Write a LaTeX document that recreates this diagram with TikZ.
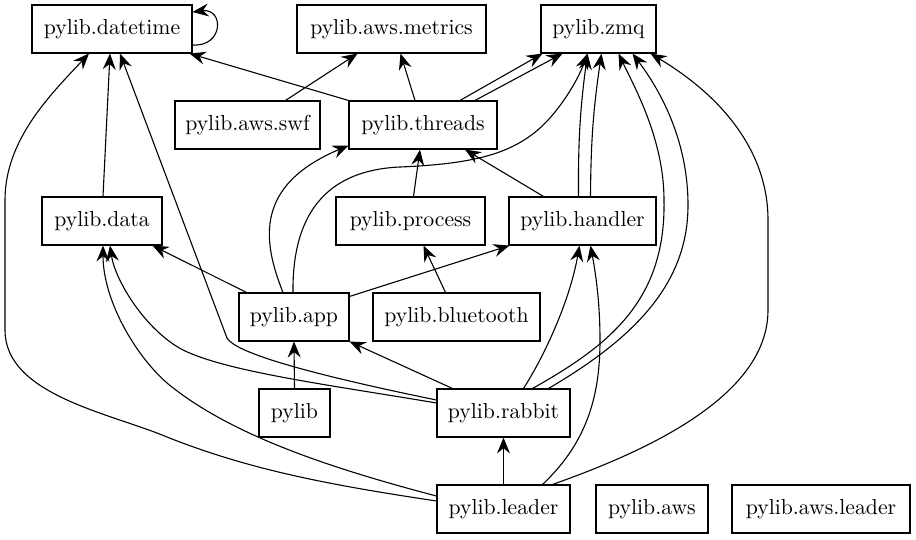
\documentclass[tikz,border=0pt]{standalone}
\usetikzlibrary{arrows.meta}
\font\nodefont="[lmroman10-regular]:mapping=tex-text" at 21.7pt
\begin{document}
\begin{tikzpicture}[x=1pt,y=-1pt,
  box/.style={draw, line width=1.1pt, minimum height=48pt, inner sep=0pt, font=\nodefont},
  edge/.style={draw, line width=1.1pt, -{Stealth[length=16pt,width=13pt,inset=5.5pt]}}]
\useasboundingbox (0,0) rectangle (916,539);
\node[box, minimum width=160pt] (datetime) at (112,29) {pylib.datetime};
\node[box, minimum width=189pt] (metrics) at (391.5,29) {pylib.aws.metrics};
\node[box, minimum width=115pt] (zmq) at (598.5,29) {pylib.zmq};
\node[box, minimum width=145pt] (swf) at (247.5,125) {pylib.aws.swf};
\node[box, minimum width=148pt] (threads) at (423,125) {pylib.threads};
\node[box, minimum width=120pt] (data) at (102,221) {pylib.data};
\node[box, minimum width=149pt] (process) at (410.5,221) {pylib.process};
\node[box, minimum width=147pt] (handler) at (582.5,221) {pylib.handler};
\node[box, minimum width=110pt] (app) at (294,317) {pylib.app};
\node[box, minimum width=167pt] (bluetooth) at (456.5,317) {pylib.bluetooth};
\node[box, minimum width=71pt] (pylib) at (294.5,413) {pylib};
\node[box, minimum width=133pt] (rabbit) at (503.5,413) {pylib.rabbit};
\node[box, minimum width=133pt] (leader) at (503.5,509) {pylib.leader};
\node[box, minimum width=112pt] (aws) at (652,509) {pylib.aws};
\node[box, minimum width=178pt] (awsleader) at (821,509) {pylib.aws.leader};

\draw[edge] ([yshift=-16pt]datetime.east) .. controls (224,47) and (224,8) .. ([yshift=17pt]datetime.east);
\draw[edge] (threads.north west) -- ([xshift=-3pt]datetime.south east);
\draw[edge] ([xshift=38pt]swf.north) -- ([xshift=-34pt]metrics.south);
\draw[edge] ([xshift=-8pt]threads.north) -- ([xshift=9pt]metrics.south);
\draw[edge] ([xshift=37pt]threads.north) -- ([xshift=-56pt]zmq.south);
\draw[edge] ([xshift=52pt]threads.north) -- ([xshift=-36pt]zmq.south);
\draw[edge] ([xshift=1pt]data.north) -- ([xshift=-2pt]datetime.south);
\draw[edge] ([yshift=13pt]rabbit.west) .. controls (300,372) and (235,352) .. (227,338) -- ([xshift=8pt]datetime.south);
\draw[edge] ([yshift=8pt]leader.west) .. controls (330,485) and (250,470) .. (167,437) .. controls (110,413) and (5,395) .. (5,330) -- (5,200) .. controls (5,140) and (50,95) .. ([xshift=-23pt]datetime.south);
\draw[edge] ([yshift=13pt]leader.west) .. controls (330,468) and (230,435) .. (167,383) .. controls (135,355) and (103,300) .. ([xshift=1pt]data.south);
\draw[edge] ([yshift=10pt]rabbit.west) .. controls (330,385) and (228,372) .. (183,350) .. controls (145,330) and (115,280) .. ([xshift=8pt]data.south);
\draw[edge] ([xshift=-11pt]app.north) .. controls (262,240) and (255,185) .. ([yshift=4pt]threads.south west);
\draw[edge] ([xshift=-1pt]app.north) .. controls (292,210) and (330,170) .. (400,167) .. controls (470,164) and (510,155) .. (540,128) .. controls (560,110) and (578,80) .. ([xshift=-11pt]zmq.south);
\draw[edge] ([xshift=3pt]process.north) -- ([xshift=-3pt]threads.south);
\draw[edge] ([xshift=-39pt]handler.north) -- ([xshift=42pt]threads.south);
\draw[edge] ([xshift=-4pt]handler.north) to[bend left=4] ([xshift=-11pt]zmq.south);
\draw[edge] ([xshift=8pt]handler.north) to[bend left=4] ([xshift=3pt]zmq.south);
\draw[edge] ([xshift=8pt]app.north west) -- ([xshift=-10pt]data.south east);
\draw[edge] ([yshift=-4pt]app.north east) -- ([xshift=1pt]handler.south west);
\draw[edge] ([xshift=-11pt]bluetooth.north) -- ([xshift=13pt]process.south);
\draw[edge] (pylib.north) -- (app.south);
\draw[edge] ([xshift=16pt]rabbit.north west) -- (app.south east);
\draw[edge] ([xshift=20pt]rabbit.north) .. controls (545,355) and (570,300) .. ([xshift=-3pt]handler.south);
\draw[edge] ([xshift=29pt]rabbit.north) .. controls (610,345) and (666,300) .. (664,200) .. controls (664,140) and (635,88) .. ([xshift=20pt]zmq.south);
\draw[edge] ([xshift=45pt]rabbit.north) .. controls (640,335) and (688,280) .. (688,205) .. controls (688,140) and (660,90) .. ([xshift=34pt]zmq.south);
\draw[edge] ([xshift=39pt]leader.north) .. controls (590,440) and (600,390) .. (600,340) .. controls (600,300) and (595,270) .. ([xshift=8pt]handler.south);
\draw[edge] ([xshift=49pt]leader.north) .. controls (650,450) and (768,395) .. (768,310) -- (768,220) .. controls (768,150) and (720,95) .. ([xshift=52pt]zmq.south);
\draw[edge] (leader.north) -- (rabbit.south);
\end{tikzpicture}
\end{document}
